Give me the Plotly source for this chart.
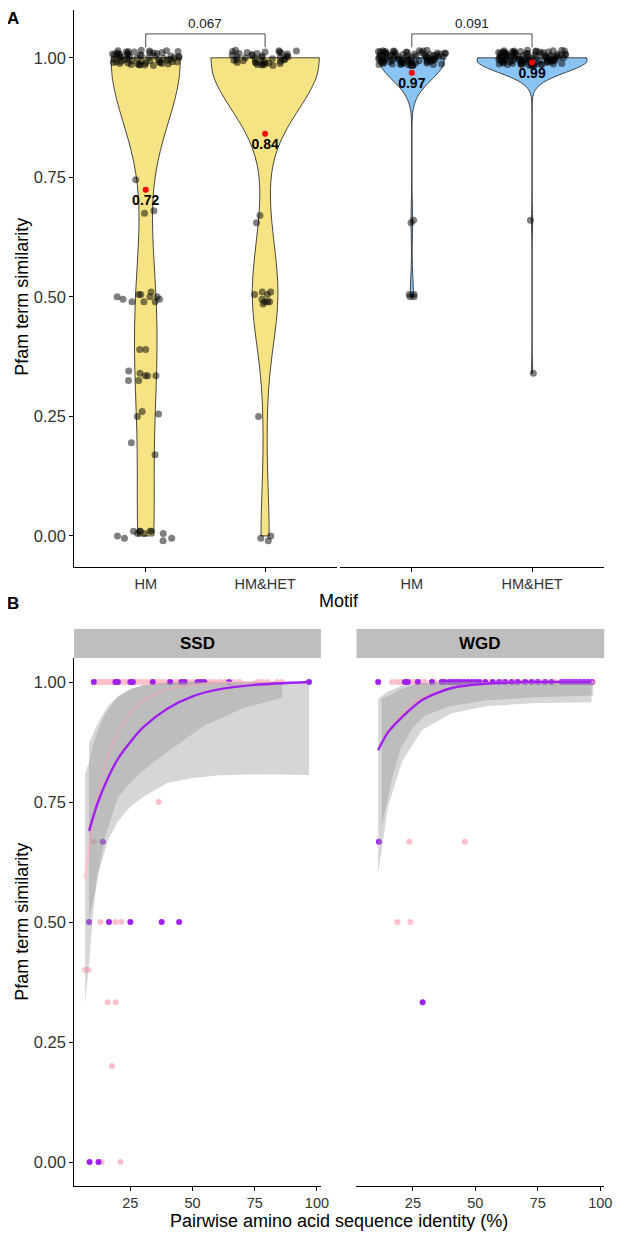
import numpy as np
import plotly.graph_objects as go

W, H = 621, 1241
OFF = 8  # the page body adds an 8 px margin around the figure
FONT = 'Liberation Sans, Arial, Helvetica, sans-serif'


def fx(p):
    return (p - OFF) / W


def fy(p):
    return 1 - (p - OFF) / H


# ---------------- panel A data ----------------
motifs = ['HM', 'HM&HET']

# measured heights of the jittered points in the cluster at 1.00
top_y = [
    1.012, 0.991, 1.004, 0.986, 1.009, 0.997, 1.015, 0.989, 1.001, 0.994,
    1.007, 0.984, 1.011, 0.999, 0.992, 1.006, 0.988, 1.013, 0.996, 1.003,
    0.985, 1.010, 0.993, 1.000, 1.008, 0.987, 1.014, 0.995, 1.002, 0.990,
    1.005, 0.998, 1.016, 0.986, 1.009, 0.993, 1.001, 0.989, 1.012, 0.996,
    1.004, 0.985, 1.007, 0.999, 0.991, 1.013, 0.988, 1.003, 0.994, 1.010,
    0.997, 1.006, 0.987, 1.015, 0.992, 1.000, 1.008, 0.990, 1.011, 0.995,
    1.002, 0.986, 1.014, 0.998, 1.005, 0.989, 1.009, 0.993, 1.001, 0.984,
    1.012, 0.996, 1.004, 0.991, 1.007, 0.988, 1.013, 0.997, 1.003, 0.994,
    1.010, 0.985, 1.006, 0.999, 1.016, 0.992, 1.000, 0.987, 1.008, 0.995,
    1.011, 0.990, 1.002, 0.998, 1.014, 0.986, 1.005, 0.993]
top_counts = [59, 41, 84, 98]

hm1_other = [0.745, 0.68, 0.675,
             0.51, 0.49, 0.49, 0.505, 0.50, 0.505, 0.50, 0.495, 0.49, 0.495, 0.50,
             0.39, 0.39, 0.345, 0.335, 0.335, 0.335, 0.325, 0.325, 0.34,
             0.26, 0.255, 0.25, 0.195, 0.17,
             0.01, -0.005, 0.005, 0.01, 0.01, 0.01, 0.0, 0.005, 0.01, -0.01, -0.005, 0.005]
het1_other = [0.67, 0.655, 0.495, 0.51, 0.51, 0.505, 0.49, 0.485, 0.49, 0.49, 0.505,
              0.25, 0.0, -0.005, -0.01]
hm2_other = [0.66, 0.655, 0.505, 0.50, 0.50, 0.505]
het2_other = [0.66, 0.34]
others = [hm1_other, het1_other, hm2_other, het2_other]

means = [0.724, 0.841, 0.969, 0.990]
pvalues = ['0.067', '0.091']

# ---------------- panel B data ----------------
facets_b = ['SSD', 'WGD']

ssd_pink_top_x = [11.5, 12.5, 13.5, 14.5, 15.5, 16.5, 17.5, 18.5, 21.5, 22.5, 24.0, 27.0,
                  28.5, 30.0, 31.5, 33.0, 35.0, 36.5, 38.0, 40.0, 43.0, 44.0, 48.0, 50.0,
                  57.0, 59.0, 61.0, 63.0, 66.5, 69.0, 76.0, 78.0, 80.0, 84.0, 86.0]
ssd_pink_x = [36.4, 10.3, 13.0, 18.9, 21.3, 6.8, 8.1, 15.9, 19.1, 17.6, 13.5, 21.0]
ssd_pink_y = [0.75, 0.667, 0.5, 0.5, 0.5, 0.4, 0.4, 0.333, 0.333, 0.2, 0.0, 0.0]
ssd_purple_top_x = [10.3, 19.0, 19.5, 20.0, 25.0, 25.5, 26.0, 34.0, 41.0, 45.5, 46.8,
                    52.0, 53.5, 54.8, 64.7, 96.8]
ssd_purple_x = [13.9, 8.4, 16.4, 25.0, 37.6, 44.6, 8.6, 12.2]
ssd_purple_y = [0.667, 0.5, 0.5, 0.5, 0.5, 0.5, 0.0, 0.0]

wgd_pink_top_x = [16.7, 18.7, 19.9, 24.6, 25.6, 26.6, 28.6, 29.8, 33.8, 38.5, 43.0, 52.5,
                  56.0, 61.0, 66.0, 69.0, 74.0, 77.0, 82.0, 97.2]
wgd_pink_x = [23.6, 45.8, 18.8, 24.0]
wgd_pink_y = [0.667, 0.667, 0.5, 0.5]
wgd_purple_top_x = [11.1, 21.8, 22.5, 23.0, 27.0, 32.6, 36.5, 37.7, 39.7, 41.0, 42.5, 44.0,
                    45.5, 47.0, 48.5, 50.0, 51.5, 54.0, 57.0, 59.5, 62.0, 64.5, 67.0, 70.0,
                    72.5, 75.0, 78.0, 80.5, 84.5, 86.0, 87.5, 89.0, 90.5, 92.0, 93.5, 95.0, 96.5]
wgd_purple_x = [11.4, 28.9]
wgd_purple_y = [0.667, 0.333]

# fitted curves and their confidence bands
ssd_pink_fit_x = [6.8, 8.5, 10, 12, 15, 20, 25, 30, 40, 55, 70, 86]
ssd_pink_fit_y = [0.59, 0.66, 0.715, 0.77, 0.83, 0.895, 0.935, 0.96, 0.985, 0.996, 0.999, 1.0]
ssd_pink_lo = [0.33, 0.42, 0.52, 0.60, 0.68, 0.76, 0.79, 0.815, 0.855, 0.91, 0.945, 0.967]
ssd_pink_hi = [0.81, 0.835, 0.87, 0.90, 0.935, 0.97, 0.985, 0.993, 0.998, 1.0, 1.0, 1.0]

ssd_purple_fit_x = [8.4, 12, 16, 20, 25, 30, 40, 50, 60, 75, 96.8]
ssd_purple_fit_y = [0.69, 0.75, 0.80, 0.84, 0.875, 0.905, 0.945, 0.97, 0.984, 0.994, 1.0]
ssd_purple_lo = [0.50, 0.60, 0.67, 0.71, 0.74, 0.76, 0.79, 0.80, 0.805, 0.808, 0.806]
ssd_purple_hi = [0.873, 0.915, 0.95, 0.97, 0.985, 0.993, 0.998, 1.0, 1.0, 1.0, 1.0]

wgd_pink_fit_x = [12.5, 16.7, 20, 25, 30, 40, 55, 75, 97.2]
wgd_pink_fit_y = [0.875, 0.91, 0.93, 0.955, 0.97, 0.988, 0.997, 1.0, 1.0]
wgd_pink_lo = [0.70, 0.80, 0.86, 0.905, 0.93, 0.95, 0.962, 0.968, 0.972]
wgd_pink_hi = [0.965, 0.975, 0.985, 0.993, 0.997, 1.0, 1.0, 1.0, 1.0]

wgd_purple_fit_x = [11.1, 15, 20.7, 28.6, 40.5, 55, 75, 96.5]
wgd_purple_fit_y = [0.858, 0.895, 0.927, 0.962, 0.9875, 0.997, 1.0, 1.0]
wgd_purple_lo = [0.60, 0.74, 0.835, 0.90, 0.935, 0.95, 0.956, 0.958]
wgd_purple_hi = [0.965, 0.98, 0.992, 0.998, 1.0, 1.0, 1.0, 1.0]

YELLOW = '#F5E384'
BLUE = '#89C4F4'
PINK = '#FFC0CB'
PURPLE = '#A020F0'
BAND = 'rgba(153,153,153,0.4)'

fig = go.Figure()

# ---------------- panel A: violins ----------------
fills = [YELLOW, YELLOW, BLUE, BLUE]
bws = [0.135, 0.105, 0.041, 0.026]
vwidths = [0.58, 0.91, 0.54, 0.91]
for i in range(4):
    vals = top_y[:top_counts[i]] + others[i]
    xa = 'x' if i < 2 else 'x2'
    ya = 'y' if i < 2 else 'y2'
    cat = motifs[i % 2]
    fig.add_trace(go.Violin(
        x=[cat] * len(vals), y=np.clip(vals, 0, 1), xaxis=xa, yaxis=ya,
        fillcolor=fills[i], line=dict(color='#333333', width=0.9),
        points=False, spanmode='hard', bandwidth=bws[i], scalemode='width',
        width=vwidths[i], hoverinfo='skip', showlegend=False))
    fig.add_trace(go.Violin(
        x=[cat] * len(vals), y=vals, xaxis=xa, yaxis=ya,
        fillcolor='rgba(0,0,0,0)', line=dict(width=0), points='all',
        pointpos=0, jitter=1, width=0.56, bandwidth=bws[i],
        marker=dict(color='rgba(0,0,0,0.5)', size=7),
        hoverinfo='skip', showlegend=False))
    fig.add_trace(go.Scatter(
        x=[cat], y=[means[i]], xaxis=xa, yaxis=ya, mode='markers+text',
        marker=dict(color='red', size=6), text=[f'{means[i]:.2f}'],
        textposition='bottom center',
        textfont=dict(size=14, color='black', family=FONT, weight='bold'),
        cliponaxis=False, showlegend=False))

# significance brackets
for j, pv in enumerate(pvalues):
    xa = 'x' if j == 0 else 'x2'
    ya = 'y' if j == 0 else 'y2'
    fig.add_trace(go.Scatter(
        x=[motifs[0], motifs[0], motifs[1], motifs[1]], y=[1.022, 1.050, 1.050, 1.022],
        xaxis=xa, yaxis=ya, mode='lines', line=dict(color='#333333', width=0.9),
        cliponaxis=False, hoverinfo='skip', showlegend=False))

# ---------------- panel B: points, bands, fits ----------------
panels = [
    ('x3', 'y3',
     (ssd_pink_top_x, ssd_pink_x, ssd_pink_y), (ssd_purple_top_x, ssd_purple_x, ssd_purple_y),
     (ssd_pink_fit_x, ssd_pink_fit_y, ssd_pink_lo, ssd_pink_hi),
     (ssd_purple_fit_x, ssd_purple_fit_y, ssd_purple_lo, ssd_purple_hi)),
    ('x4', 'y4',
     (wgd_pink_top_x, wgd_pink_x, wgd_pink_y), (wgd_purple_top_x, wgd_purple_x, wgd_purple_y),
     (wgd_pink_fit_x, wgd_pink_fit_y, wgd_pink_lo, wgd_pink_hi),
     (wgd_purple_fit_x, wgd_purple_fit_y, wgd_purple_lo, wgd_purple_hi)),
]
for xa, ya, pink_pts, purple_pts, pink_fit, purple_fit in panels:
    for (tx, ox, oy), col in [(pink_pts, PINK), (purple_pts, PURPLE)]:
        fig.add_trace(go.Scatter(
            x=tx + ox, y=[1.0] * len(tx) + oy, xaxis=xa, yaxis=ya, mode='markers',
            marker=dict(color=col, size=6), hoverinfo='skip', showlegend=False))
    for (fx_, fy_, lo, hi), col in [(pink_fit, PINK), (purple_fit, PURPLE)]:
        fig.add_trace(go.Scatter(
            x=fx_ + fx_[::-1], y=hi + lo[::-1], xaxis=xa, yaxis=ya, mode='lines',
            fill='toself', fillcolor=BAND, line=dict(width=0),
            hoverinfo='skip', showlegend=False))
        fig.add_trace(go.Scatter(
            x=fx_, y=fy_, xaxis=xa, yaxis=ya, mode='lines',
            line=dict(color=col, width=2.4, shape='spline', smoothing=0.8),
            hoverinfo='skip', showlegend=False))

# ---------------- layout ----------------
ax = dict(showline=True, linecolor='black', linewidth=1, ticks='outside', ticklen=4,
          tickcolor='black', tickwidth=1, showgrid=False, zeroline=False,
          tickfont=dict(size=14.5, color='#333333', family=FONT))
yfont = dict(size=16.5, color='#333333', family=FONT)
yt = [0, 0.25, 0.5, 0.75, 1.0]
ytt = ['0.00', '0.25', '0.50', '0.75', '1.00']
cat_ax = dict(ax, type='category', categoryorder='array', categoryarray=motifs,
              range=[-0.6, 1.6])
num_x = dict(ax, range=[2.4, 101.6], tickvals=[25, 50, 75, 100])

fig.update_layout(
    width=W, height=H, margin=dict(l=0, r=0, t=0, b=0),
    paper_bgcolor='white', plot_bgcolor='white', showlegend=False,
    font=dict(family=FONT, color='black'),
    violinmode='overlay',
    xaxis=dict(cat_ax, domain=[fx(75), fx(341)], anchor='y'),
    xaxis2=dict(cat_ax, domain=[fx(344), fx(612)], anchor='y2'),
    yaxis=dict(ax, domain=[fy(567), fy(10)], anchor='x', range=[-0.065, 1.10],
               tickvals=yt, ticktext=ytt, tickfont=yfont),
    yaxis2=dict(domain=[fy(567), fy(10)], anchor='x2', matches='y', range=[-0.065, 1.10],
                visible=False),
    xaxis3=dict(num_x, domain=[fx(75), fx(325)], anchor='y3'),
    xaxis4=dict(num_x, domain=[fx(361), fx(612)], anchor='y4'),
    yaxis3=dict(ax, domain=[fy(1186), fy(658)], anchor='x3', range=[-0.05, 1.05],
                tickvals=yt, ticktext=ytt, tickfont=yfont),
    yaxis4=dict(domain=[fy(1186), fy(658)], anchor='x4', matches='y3', range=[-0.05, 1.05],
                visible=False),
)

shapes = []
annotations = []
# facet strips
for name, (x0, x1) in zip(facets_b, [(75, 325), (361, 612)]):
    shapes.append(dict(type='rect', xref='paper', yref='paper', x0=fx(x0), x1=fx(x1),
                       y0=fy(658), y1=fy(629), fillcolor='#BEBEBE', line=dict(width=0),
                       layer='below'))
    annotations.append(dict(text=name, xref='paper', yref='paper', x=fx((x0 + x1) / 2),
                            y=fy(643.5), showarrow=False, xanchor='center', yanchor='middle',
                            font=dict(size=17, family=FONT, color='black', weight='bold')))

for j, pv in enumerate(pvalues):
    annotations.append(dict(text=pv, xref='x' if j == 0 else 'x2', yref='y' if j == 0 else 'y2',
                            x=0.5, y=1.071, showarrow=False, xanchor='center',
                            yanchor='middle', font=dict(size=13.5, family=FONT, color='#222')))


def label(text, x, y, size, angle=0, bold=False):
    annotations.append(dict(text=text, xref='paper', yref='paper', x=fx(x), y=fy(y),
                            showarrow=False, xanchor='center', yanchor='middle',
                            textangle=angle,
                            font=dict(size=size, family=FONT, color='black',
                                      weight='bold' if bold else 'normal')))


label('A', 13, 18, 17, bold=True)
label('B', 13, 604, 17, bold=True)
label('Motif', 343, 601, 18)
label('Pairwise amino acid sequence identity (%)', 343, 1221, 18)
label('Pfam term similarity', 22, 297, 18, angle=-90)
label('Pfam term similarity', 22, 922, 18, angle=-90)

fig.update_layout(shapes=shapes, annotations=annotations)

fig.write_html("out.html")
